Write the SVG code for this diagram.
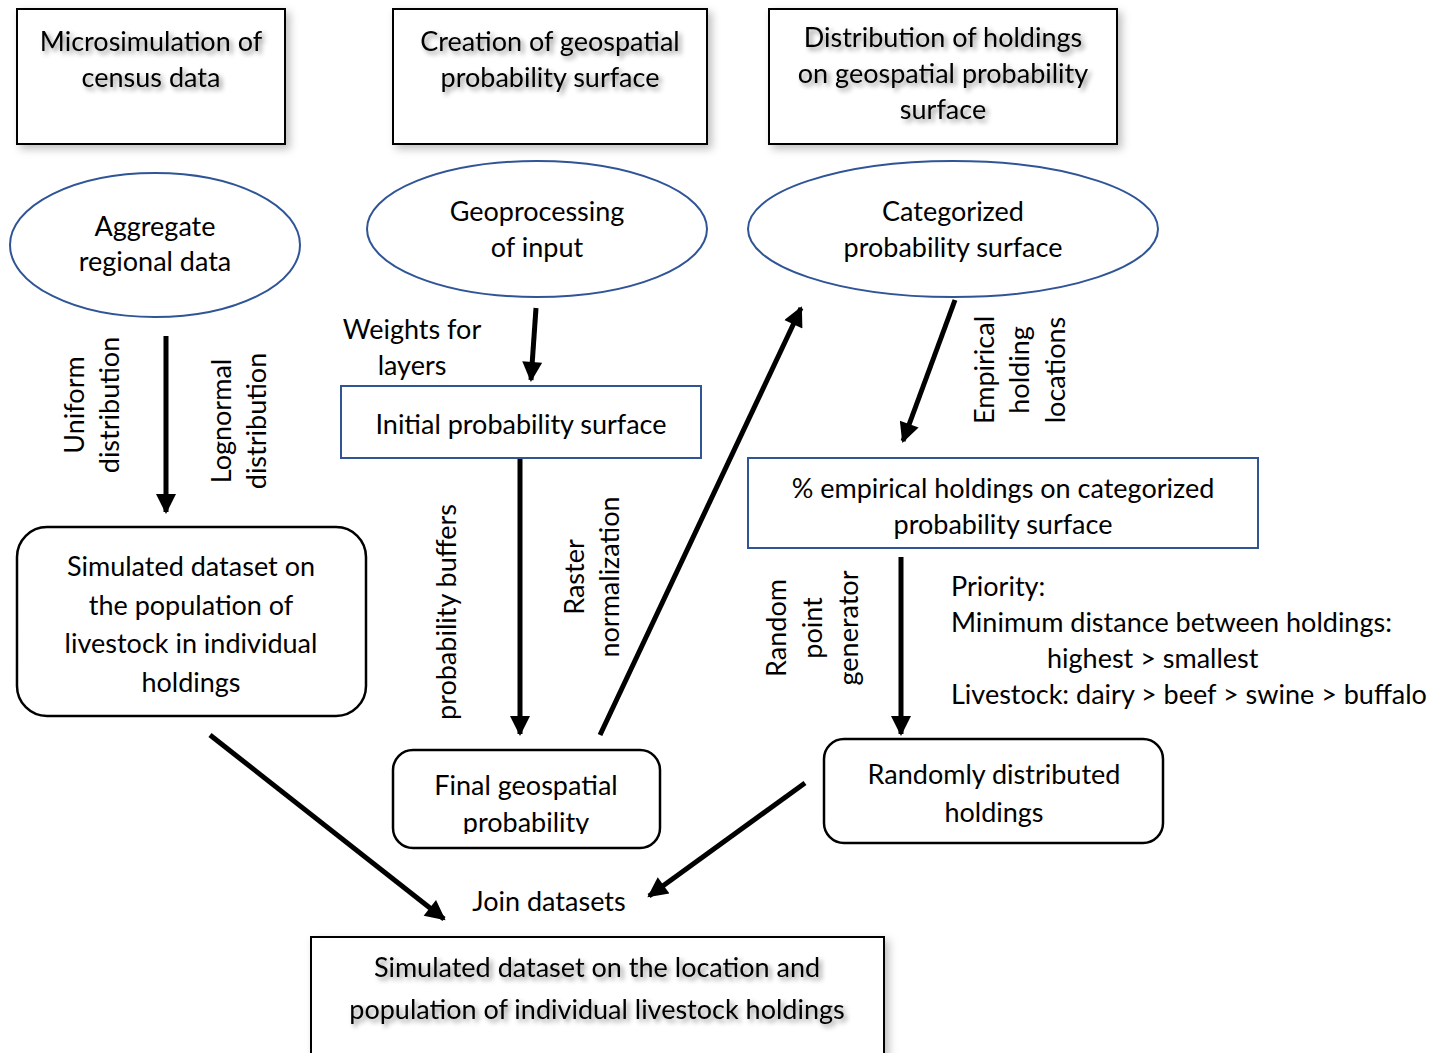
<svg xmlns="http://www.w3.org/2000/svg" width="1435" height="1053" viewBox="0 0 1435 1053">
<defs>
<style>
text{font-family:Lato,"Open Sans","Liberation Sans",sans-serif;font-size:27px;fill:#000;text-anchor:middle}
.l{text-anchor:start}
.box{fill:#fff;stroke:#000;stroke-width:2}
.blue{fill:#fff;stroke:#2F5597;stroke-width:2}
.rr{fill:#fff;stroke:#000;stroke-width:2.5}
.ar{stroke:#000;stroke-width:5;fill:none;marker-end:url(#ah)}
</style>
<marker id="ah" viewBox="0 0 10 10" refX="9" refY="5" markerWidth="22" markerHeight="20" markerUnits="userSpaceOnUse" orient="auto">
<path d="M0,0 L10,5 L0,10 z" fill="#000"/>
</marker>
<filter id="sh" x="-10%" y="-20%" width="130%" height="160%">
<feDropShadow dx="3" dy="3" stdDeviation="2.5" flood-color="#000" flood-opacity="0.45"/>
</filter>
<filter id="bsh" x="-10%" y="-10%" width="120%" height="130%">
<feDropShadow dx="4" dy="4" stdDeviation="4" flood-color="#000" flood-opacity="0.25"/>
</filter>
<clipPath id="fclip"><rect x="393" y="750" width="267" height="84"/></clipPath>
</defs>

<g id="connectors">
<line class="ar" x1="166" y1="336" x2="166" y2="512"/>
<line class="ar" x1="536" y1="308" x2="531" y2="380"/>
<line class="ar" x1="520" y1="459" x2="520" y2="734"/>
<line class="ar" x1="600" y1="735" x2="801" y2="308"/>
<line class="ar" x1="955" y1="300" x2="903" y2="441"/>
<line class="ar" x1="901" y1="557" x2="901" y2="734"/>
<line class="ar" x1="210" y1="735" x2="444" y2="919"/>
<line class="ar" x1="805" y1="783" x2="649" y2="896"/>
</g>

<g id="n-micro">
<rect class="box" x="17" y="9" width="268" height="135" filter="url(#bsh)"/>
<g filter="url(#sh)"><text x="151" y="51">Microsimulation of</text><text x="151" y="87">census data</text></g>
</g>
<g id="n-creation">
<rect class="box" x="393" y="9" width="314" height="135" filter="url(#bsh)"/>
<g filter="url(#sh)"><text x="550" y="51">Creation of geospatial</text><text x="550" y="87">probability surface</text></g>
</g>
<g id="n-distribution">
<rect class="box" x="769" y="9" width="348" height="135" filter="url(#bsh)"/>
<g filter="url(#sh)"><text x="943" y="47">Distribution of holdings</text><text x="943" y="83">on geospatial probability</text><text x="943" y="119">surface</text></g>
</g>

<g id="n-aggregate">
<ellipse class="blue" cx="155" cy="245" rx="145" ry="72"/>
<text x="155" y="236">Aggregate</text><text x="155" y="271">regional data</text>
</g>
<g id="n-geoproc">
<ellipse class="blue" cx="537" cy="229" rx="170" ry="68"/>
<text x="537" y="221">Geoprocessing</text><text x="537" y="257">of input</text>
</g>
<g id="n-categorized">
<ellipse class="blue" cx="953" cy="229" rx="205" ry="68"/>
<text x="953" y="221">Categorized</text><text x="953" y="257">probability surface</text>
</g>

<g id="n-initial">
<rect class="blue" x="341" y="386" width="360" height="72"/>
<text x="521" y="434">Initial probability surface</text>
</g>
<g id="n-empirical">
<rect class="blue" x="748" y="458" width="510" height="90"/>
<text x="1003" y="498">% empirical holdings on categorized</text><text x="1003" y="534">probability surface</text>
</g>

<g id="n-simulated">
<rect class="rr" x="17" y="527" width="349" height="189" rx="30"/>
<text x="191" y="576">Simulated dataset on</text><text x="191" y="615">the population of</text><text x="191" y="653">livestock in individual</text><text x="191" y="692">holdings</text>
</g>
<g id="n-final">
<rect class="rr" x="393" y="750" width="267" height="98" rx="20"/>
<g clip-path="url(#fclip)"><text x="526" y="795">Final geospatial</text><text x="526" y="832">probability</text></g>
</g>
<g id="n-random">
<rect class="rr" x="824" y="739" width="339" height="104" rx="20"/>
<text x="994" y="784">Randomly distributed</text><text x="994" y="822">holdings</text>
</g>

<g id="n-result">
<rect class="box" x="311" y="937" width="573" height="130" filter="url(#bsh)"/>
<g filter="url(#sh)"><text x="597" y="977">Simulated dataset on the location and</text><text x="597" y="1019">population of individual livestock holdings</text></g>
</g>

<g id="labels">
<text x="412" y="339">Weights for</text><text x="412" y="375">layers</text>
<g transform="translate(75,405) rotate(-90)"><text x="0" y="9">Uniform</text></g>
<g transform="translate(110,405) rotate(-90)"><text x="0" y="9">distribution</text></g>
<g transform="translate(222,421) rotate(-90)"><text x="0" y="9">Lognormal</text></g>
<g transform="translate(257,421) rotate(-90)"><text x="0" y="9">distribution</text></g>
<g transform="translate(447,612) rotate(-90)"><text x="0" y="9">probability buffers</text></g>
<g transform="translate(575,577) rotate(-90)"><text x="0" y="9">Raster</text></g>
<g transform="translate(610,577) rotate(-90)"><text x="0" y="9">normalization</text></g>
<g transform="translate(985,370) rotate(-90)"><text x="0" y="9">Empirical</text></g>
<g transform="translate(1020,370) rotate(-90)"><text x="0" y="9">holding</text></g>
<g transform="translate(1056,370) rotate(-90)"><text x="0" y="9">locations</text></g>
<g transform="translate(777,628) rotate(-90)"><text x="0" y="9">Random</text></g>
<g transform="translate(813,628) rotate(-90)"><text x="0" y="9">point</text></g>
<g transform="translate(849,628) rotate(-90)"><text x="0" y="9">generator</text></g>
<text class="l" x="951" y="596">Priority:</text>
<text class="l" x="951" y="632">Minimum distance between holdings:</text>
<text class="l" x="1047" y="668">highest &gt; smallest</text>
<text class="l" x="951" y="704">Livestock: dairy &gt; beef &gt; swine &gt; buffalo</text>
<text x="549" y="911">Join datasets</text>
</g>
</svg>
